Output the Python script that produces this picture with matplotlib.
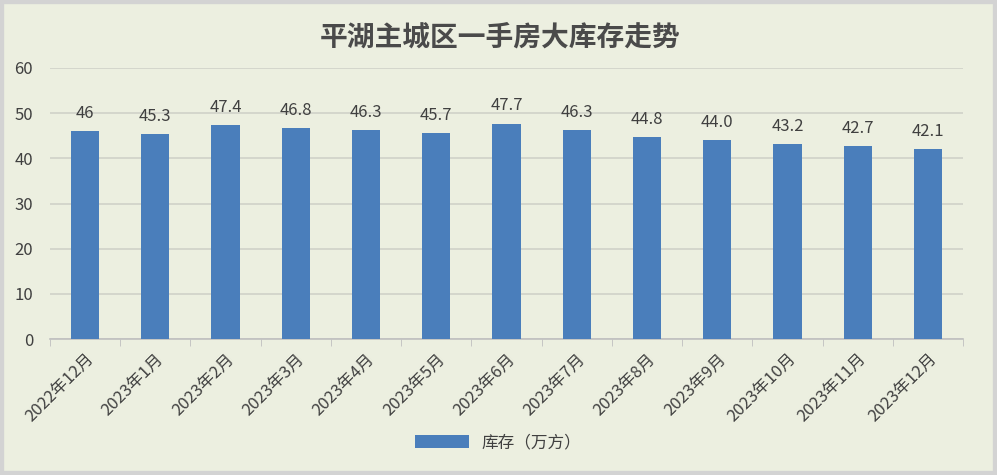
import numpy as np
import matplotlib.pyplot as plt
from matplotlib.patches import Rectangle

plt.rcParams['font.family'] = ['Noto Sans CJK SC', 'DejaVu Sans']

months = ["2022年12月", "2023年1月", "2023年2月", "2023年3月", "2023年4月",
          "2023年5月", "2023年6月", "2023年7月", "2023年8月", "2023年9月",
          "2023年10月", "2023年11月", "2023年12月"]
stock = [46, 45.3, 47.4, 46.8, 46.3, 45.7, 47.7, 46.3, 44.8, 44.0, 43.2, 42.7, 42.1]
labels = ["46", "45.3", "47.4", "46.8", "46.3", "45.7", "47.7", "46.3",
          "44.8", "44.0", "43.2", "42.7", "42.1"]

bg = '#ECEFE0'
bar_color = '#4A7EBB'
text_color = '#404040'

fig = plt.figure(figsize=(9.97, 4.75), dpi=100, facecolor=bg)
# grey frame round the chart
fig.patches.append(Rectangle((0, 0), 1, 1, transform=fig.transFigure, fill=False,
                             edgecolor='#D3D3D3', linewidth=6, zorder=10))

ax = fig.add_axes([0.050, 0.286, 0.916, 0.571])
ax.set_facecolor(bg)

x = np.arange(len(months))
bars = ax.bar(x, stock, width=0.4, color=bar_color, zorder=3, label='库存（万方）')
for xi, v, lab in zip(x, stock, labels):
    ax.text(xi, v + 2.0, lab, ha='center', va='bottom', fontsize=12, color=text_color)

ax.set_xlim(-0.5, len(months) - 0.5)
ax.set_ylim(0, 60)
ax.set_yticks(range(0, 61, 10))
ax.yaxis.grid(True, color='#D0D2C8', linewidth=1.2, zorder=0)
ax.tick_params(axis='y', length=0, labelsize=12, labelcolor=text_color, pad=12)

ax.set_xticks(x)
ax.set_xticklabels(months, rotation=45, ha='right', rotation_mode='anchor',
                   fontsize=12, color=text_color)
ax.tick_params(axis='x', length=0, pad=8)
ax.set_xticks(np.arange(-0.5, len(months)), minor=True)
ax.tick_params(axis='x', which='minor', length=5, color='#BFBFBF')

for s in ['top', 'right', 'left']:
    ax.spines[s].set_visible(False)
ax.spines['bottom'].set_color('#BFBFBF')
ax.spines['bottom'].set_linewidth(1.2)

fig.text(0.502, 0.92, '平湖主城区一手房大库存走势', ha='center', va='center',
         fontsize=20, color='#4A4A4A', fontweight='bold')

fig.legend(handles=[bars], loc='center', bbox_to_anchor=(0.50, 0.068), frameon=False,
           fontsize=12, handlelength=3.2, handleheight=0.9, labelcolor=text_color)

fig.savefig('out.png', dpi=100, facecolor=fig.get_facecolor())
